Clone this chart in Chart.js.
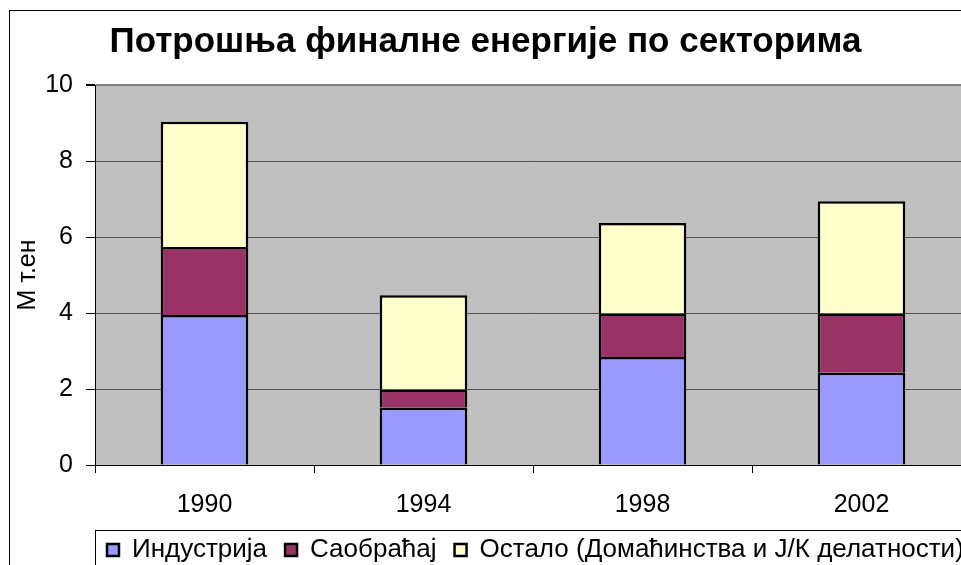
<!DOCTYPE html>
<html>
<head>
<meta charset="utf-8">
<script src="https://cdn.jsdelivr.net/npm/chart.js@4"></script>
<style>
    html, body { margin: 0; padding: 0; background: #fff; }
    #wrap { position: relative; width: 961px; height: 565px; overflow: hidden; }
    #box { position: absolute; left: 0; top: 0; width: 980px; height: 573px; }
</style>
</head>
<body>
<div id="wrap"><div id="box"><canvas id="energyChart"></canvas></div></div>
<script>
// categories and series (Mtoe)
const years = ['1990', '1994', '1998', '2002'];
const industry = [3.95, 1.51, 2.84, 2.43];
const transport = [1.79, 0.48, 1.15, 1.56];
const other = [3.29, 2.48, 2.38, 2.95];
const seriesNames = ['Индустрија', 'Саобраћај', 'Остало (Домаћинства и Ј/К делатности)'];
const yTicks = [0, 2, 4, 6, 8, 10];

const FONT = 'Liberation Sans, Arial, sans-serif';

// frame around chart + border around legend, legend moved to the plot's left edge
const framePlugin = {
    id: 'frame',
    afterLayout(chart) {
        const lg = chart.legend;
        const shift = 89 - lg.left;
        lg.left += shift;
        lg.right += shift;
    },
    beforeDraw(chart) {
        const c = chart.ctx;
        const a = chart.chartArea;
        c.save();
        c.fillStyle = '#C0C0C0';
        c.fillRect(a.left, a.top, a.right - a.left, a.bottom - a.top);
        c.restore();
    },
    afterDraw(chart) {
        const c = chart.ctx;
        c.save();
        c.strokeStyle = '#000';
        c.lineWidth = 1;
        c.strokeRect(9.5, 10.5, 1100, 1000);
        c.strokeRect(95.5, 530.5, 1100, 200);
        c.restore();
    }
};

const ctx = document.getElementById('energyChart').getContext('2d');

new Chart(ctx, {
    type: 'bar',
    data: {
        labels: years,
        datasets: [
            { label: seriesNames[0], data: industry, backgroundColor: '#9999FF' },
            { label: seriesNames[1], data: transport, backgroundColor: '#993366' },
            { label: seriesNames[2], data: other, backgroundColor: '#FFFFCC' }
        ].map(d => Object.assign(d, {
            borderColor: '#000',
            borderWidth: 2.5,
            borderSkipped: 'start',
            categoryPercentage: 1,
            barPercentage: 0.4
        }))
    },
    options: {
        responsive: true,
        maintainAspectRatio: false,
        animation: false,
        layout: { padding: { left: 0, right: 9, top: 0, bottom: 0 } },
        plugins: {
            title: {
                display: true,
                text: 'Потрошња финалне енергије по секторима',
                color: '#000',
                font: { family: FONT, size: 35, weight: 'bold' },
                padding: { top: 21, bottom: 22 }
            },
            legend: {
                position: 'bottom',
                align: 'start',
                labels: {
                    color: '#000',
                    font: { family: FONT, size: 26 },
                    boxWidth: 12,
                    boxHeight: 12,
                    padding: 18
                }
            },
            tooltip: { enabled: false }
        },
        scales: {
            x: {
                stacked: true,
                afterFit(scale) { scale.height = 54; },
                grid: {
                    drawOnChartArea: false,
                    drawTicks: true,
                    tickLength: 8,
                    tickColor: '#000',
                    offset: true
                },
                border: { color: '#000', width: 1 },
                ticks: {
                    color: '#000',
                    font: { family: FONT, size: 25 },
                    padding: 17
                }
            },
            y: {
                stacked: true,
                min: 0,
                max: 10,
                afterFit(scale) { scale.width = 95; },
                afterBuildTicks(scale) { scale.ticks = yTicks.map(v => ({ value: v })); },
                grid: {
                    color: c => c.tick && c.tick.value === 10 ? '#808080' : '#505050',
                    lineWidth: c => c.tick && c.tick.value === 10 ? 2 : 1,
                    tickColor: '#000',
                    tickLength: 9
                },
                border: { color: '#000', width: 1 },
                ticks: {
                    color: '#000',
                    font: { family: FONT, size: 25 },
                    padding: 13
                },
                title: {
                    display: true,
                    text: 'М т.ен',
                    color: '#000',
                    font: { family: FONT, size: 25 },
                    padding: { top: 13, bottom: 0 }
                }
            }
        }
    },
    plugins: [framePlugin]
});
</script>
</body>
</html>
